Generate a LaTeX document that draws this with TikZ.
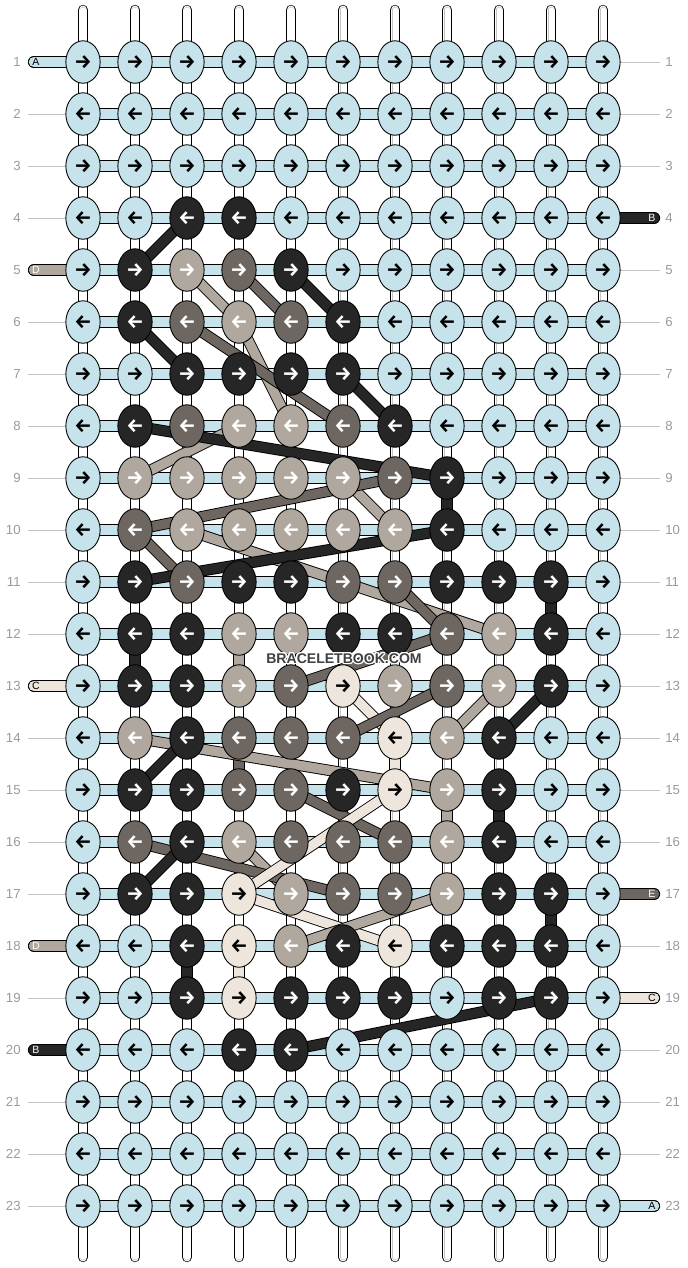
\documentclass[tikz,border=0pt]{standalone}
\usepackage{fontspec}
\setmainfont{Liberation Sans}
\newfontfamily\arrowfont{Fira Sans}
\usepackage[copies]{contour}
\usetikzlibrary{shapes.geometric}

\definecolor{strL}{HTML}{C6E2EA}
\definecolor{strK}{HTML}{262626}
\definecolor{strM}{HTML}{6E6761}
\definecolor{strG}{HTML}{B0A79E}
\definecolor{strC}{HTML}{EEE6DC}
\definecolor{rowgrey}{HTML}{9A9A9A}
\definecolor{tubegrey}{HTML}{C4C4C4}
\definecolor{markgrey}{HTML}{404040}

\pgfdeclarelayer{strings}
\pgfsetlayers{strings,main}

\tikzset{
  knot/.style={ellipse,draw=black,line width=0.5pt,minimum width=0.686cm,minimum height=0.85cm,inner sep=0pt,font=\arrowfont\bfseries\fontsize{11}{12}\selectfont},
  knotL/.style={fill=strL,text=black},
  knotK/.style={fill=strK,text=white},
  knotM/.style={fill=strM,text=white},
  knotG/.style={fill=strG,text=white},
  knotC/.style={fill=strC,text=black},
  tube/.style={draw=black,line width=5.9pt,line cap=round,
    postaction={draw=white,line width=5.1pt},
    postaction={draw=tubegrey,line width=3.6pt},
    postaction={draw=white,line width=2.85pt}},
  strip/.style={draw=black,line width=0.5pt,double=#1,double distance=6pt},
  strip/.default=strL,
  tail/.style={strip=#1,line cap=round},
  thread/.style={draw=black,line width=0.5pt,double=#1,double distance=5.4pt},
  guide/.style={draw=tubegrey,line width=0.5pt},
  rownum/.style={text=rowgrey,font=\fontsize{7.5}{8}\selectfont,inner sep=0pt},
  tag/.style={font=\fontsize{6}{7}\selectfont,inner sep=0pt},
}

% one row of knots: odd rows point right, even rows left
\newcommand\knotrow[2]{%
  \foreach \k [count=\c] in {#2}
    \node (knot_#1_\c) at ({31+52*\c},{10+52*#1}) [knot,knot\k] {\ifodd#1 →\else ←\fi};}

\begin{document}
\begin{tikzpicture}[x=0.02cm,y=-0.02cm]

  \useasboundingbox (0,0) rectangle (688,1268);

  \knotrow{1}{L,L,L,L,L,L,L,L,L,L,L}
  \knotrow{2}{L,L,L,L,L,L,L,L,L,L,L}
  \knotrow{3}{L,L,L,L,L,L,L,L,L,L,L}
  \knotrow{4}{L,L,K,K,L,L,L,L,L,L,L}
  \knotrow{5}{L,K,G,M,K,L,L,L,L,L,L}
  \knotrow{6}{L,K,M,G,M,K,L,L,L,L,L}
  \knotrow{7}{L,L,K,K,K,K,L,L,L,L,L}
  \knotrow{8}{L,K,M,G,G,M,K,L,L,L,L}
  \knotrow{9}{L,G,G,G,G,G,M,K,L,L,L}
  \knotrow{10}{L,M,G,G,G,G,G,K,L,L,L}
  \knotrow{11}{L,K,M,K,K,M,M,K,K,K,L}
  \knotrow{12}{L,K,K,G,G,K,K,M,G,K,L}
  \knotrow{13}{L,K,K,G,M,C,G,M,G,K,L}
  \knotrow{14}{L,G,K,M,M,M,C,G,K,L,L}
  \knotrow{15}{L,K,K,M,M,K,C,G,K,L,L}
  \knotrow{16}{L,M,K,G,M,M,M,G,K,L,L}
  \knotrow{17}{L,K,K,C,G,M,M,G,K,K,L}
  \knotrow{18}{L,L,K,C,G,K,C,K,K,K,L}
  \knotrow{19}{L,L,K,C,K,K,K,L,K,K,L}
  \knotrow{20}{L,L,L,K,K,L,L,L,L,L,L}
  \knotrow{21}{L,L,L,L,L,L,L,L,L,L,L}
  \knotrow{22}{L,L,L,L,L,L,L,L,L,L,L}
  \knotrow{23}{L,L,L,L,L,L,L,L,L,L,L}

  \begin{pgfonlayer}{strings}
    % vertical strings
    \foreach \c in {1,...,11} {
      \coordinate (top_\c) at ({31+52*\c},10);
      \coordinate (bot_\c) at ({31+52*\c},1257);
      \draw [tube] (top_\c) -- (bot_\c);
    }
    % coloured vertical pieces
    \foreach \a/\b/\col in {9_8/10_8/strK,11_10/12_10/strK,12_2/13_2/strK,15_9/16_9/strK,17_10/18_10/strK,18_3/19_3/strK,
        14_4/15_4/strM,12_4/13_4/strG,15_8/16_8/strG,14_7/15_7/strC,18_4/19_4/strC}
      \draw [thread=\col] (knot_\a.center) -- (knot_\b.center);
    % rows
    \foreach \r in {1,...,23}
      \draw [strip] (knot_\r_1.center) -- (knot_\r_11.center);
    % loose ends, left and right
    \foreach \r/\col/\lab/\tc in {1/strL/A/black,5/strG/D/white,13/strC/C/black,18/strG/D/white,20/strK/B/white} {
      \coordinate (in_\r) at (34,{10+52*\r});
      \draw [tail=\col] (in_\r) -- (knot_\r_1.center);
      \node (tag_in_\r) at (36,{10+52*\r}) [tag,text=\tc] {\lab};
    }
    \foreach \r/\col/\lab/\tc in {4/strK/B/white,17/strM/E/white,19/strC/C/black,23/strL/A/black} {
      \coordinate (out_\r) at (654,{10+52*\r});
      \draw [tail=\col] (knot_\r_11.center) -- (out_\r);
      \node (tag_out_\r) at (652,{10+52*\r}) [tag,text=\tc] {\lab};
    }
    \foreach \r in {2,3,4,6,7,8,9,10,11,12,14,15,16,17,19,21,22,23} {
      \coordinate (gl_\r) at (28,{10+52*\r});
      \draw [guide] (gl_\r) -- (knot_\r_1.west);
    }
    \foreach \r in {1,2,3,5,6,7,8,9,10,11,12,13,14,15,16,18,20,21,22} {
      \coordinate (gr_\r) at (660,{10+52*\r});
      \draw [guide] (knot_\r_11.east) -- (gr_\r);
    }
    % carried threads
    \foreach \a/\b in {5_3/6_4,6_4/8_5,9_2/8_4,9_6/10_7,10_3/12_9,13_9/14_8,14_2/15_8,16_4/17_5}
      \draw [thread=strG] (knot_\a.center) -- (knot_\b.center);
    \draw [thread=strC] (knot_13_6.center) -- (knot_14_7.center);
    \foreach \a/\b in {5_4/6_5,6_3/8_6,10_2/9_7,10_2/11_3,11_7/12_8,12_8/13_5,13_8/14_6,15_5/16_7,16_2/17_6}
      \draw [thread=strM] (knot_\a.center) -- (knot_\b.center);
    \draw [thread=strC] (knot_17_4.center) -- (knot_15_7.center);
    \draw [thread=strC] (knot_17_4.center) -- (knot_18_7.center);
    \draw [thread=strG] (knot_17_8.center) -- (knot_18_5.center);
    \foreach \a/\b in {4_3/5_2,5_5/6_6,6_2/7_3,7_6/8_7,8_2/9_8,11_2/10_8,13_10/14_9,14_3/15_2,16_3/17_2,20_5/19_10}
      \draw [thread=strK] (knot_\a.center) -- (knot_\b.center);
  \end{pgfonlayer}

  % row numbers
  \foreach \r in {1,...,23} {
    \node (num_l_\r) at (21,{10+52*\r}) [rownum,anchor=east] {\r};
    \node (num_r_\r) at (665,{10+52*\r}) [rownum,anchor=west] {\r};
  }

  \contourlength{0.7pt}
  \node (mark) at (344,659) [text=markgrey,font=\fontsize{8}{9}\selectfont\bfseries] {\contour{white}{BRACELETBOOK.COM}};

\end{tikzpicture}
\end{document}
